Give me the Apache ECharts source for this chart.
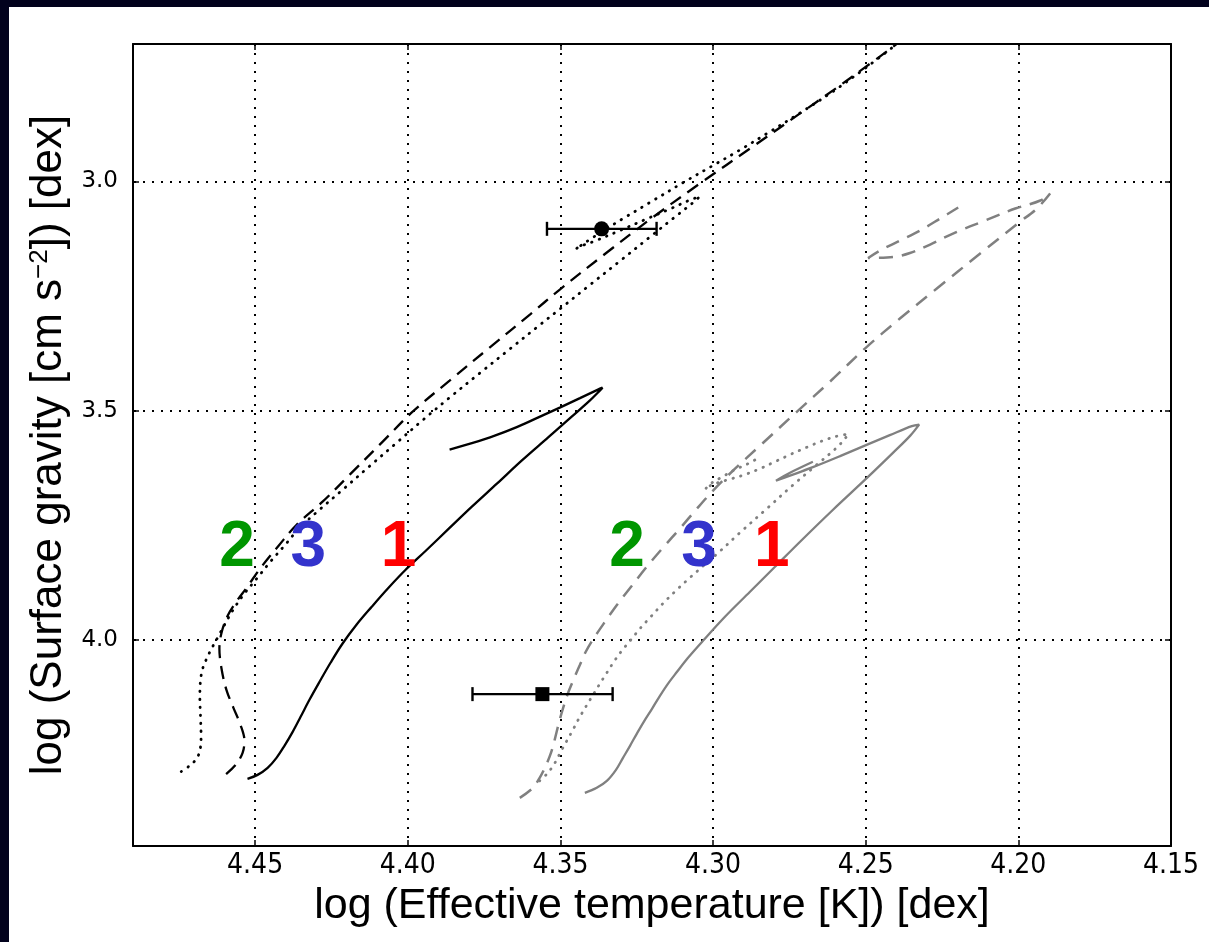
<!DOCTYPE html>
<html><head><meta charset="utf-8">
<script src="https://cdn.jsdelivr.net/npm/echarts@6/dist/echarts.min.js"></script>
<style>
html,body{margin:0;padding:0;background:#02021d;width:1209px;height:942px;overflow:hidden}
#c{position:absolute;left:9px;top:7px;width:1200px;height:935px;background:#fff}
</style></head><body><div id="c"></div>
<script>
// ---- tick values ----
const xTicks = [4.45, 4.40, 4.35, 4.30, 4.25, 4.20, 4.15];
const yTicks = [3.0, 3.5, 4.0];

// ---- black tracks (left group) ----
const blackSolid = [[4.4525,4.3035],[4.4492,4.2948],[4.4459,4.2795],[4.4430,4.2576],[4.4404,4.2314],[4.4377,4.2009],[4.4351,4.1681],[4.4322,4.1310],[4.4289,4.0917],[4.4253,4.0502],[4.4214,4.0087],[4.4168,3.9672],[4.4118,3.9279],[4.4066,3.8886],[4.4007,3.8472],[4.3941,3.8057],[4.3869,3.7598],[4.3790,3.7096],[4.3708,3.6594],[4.3627,3.6092],[4.3541,3.5590],[4.3463,3.5131],[4.3404,3.4782],[4.3371,3.4563],[4.3362,3.4498],[4.3377,3.4541],[4.3436,3.4727],[4.3502,3.4934],[4.3574,3.5153],[4.3643,3.5360],[4.3715,3.5546],[4.3790,3.5710],[4.3863,3.5852]];
const blackDashed = [[4.4595,4.2932],[4.4562,4.2714],[4.4541,4.2467],[4.4535,4.2205],[4.4548,4.1856],[4.4571,4.1485],[4.4594,4.1092],[4.4610,4.0633],[4.4617,4.0197],[4.4610,3.9847],[4.4590,3.9476],[4.4564,3.9192],[4.4528,3.8865],[4.4479,3.8406],[4.4423,3.7948],[4.4364,3.7489],[4.4279,3.6987],[4.4190,3.6397],[4.4082,3.5677],[4.3984,3.5022],[4.3863,3.4345],[4.3732,3.3624],[4.3600,3.2904],[4.3502,3.2358],[4.3348,3.1550],[4.3207,3.0830],[4.3043,3.0044],[4.2869,2.9236],[4.2715,2.8515],[4.2607,2.8013],[4.2498,2.7489],[4.2400,2.7009]];
const blackDotted = [[4.4742,4.2876],[4.4715,4.2751],[4.4693,4.2605],[4.4681,4.2424],[4.4677,4.2096],[4.4679,4.1659],[4.4681,4.1266],[4.4679,4.0895],[4.4672,4.0633],[4.4659,4.0415],[4.4643,4.0197],[4.4623,3.9956],[4.4600,3.9672],[4.4574,3.9367],[4.4538,3.9017],[4.4495,3.8668],[4.4450,3.8297],[4.4404,3.7948],[4.4354,3.7555],[4.4289,3.7162],[4.4213,3.6725],[4.4125,3.6212],[4.4036,3.5699],[4.3951,3.5207],[4.3863,3.4716],[4.3764,3.4181],[4.3666,3.3657],[4.3568,3.3133],[4.3502,3.2784],[4.3404,3.2260],[4.3305,3.1736],[4.3207,3.1212],[4.3125,3.0775],[4.3069,3.0480],[4.3043,3.0328],[4.3076,3.0404],[4.3141,3.0600],[4.3207,3.0786],[4.3305,3.1070],[4.3387,3.1299],[4.3436,3.1419],[4.3450,3.1474],[4.3371,3.1124],[4.3289,3.0786],[4.3207,3.0459],[4.3089,2.9989],[4.3000,2.9651],[4.2912,2.9312],[4.2823,2.8952],[4.2715,2.8504],[4.2607,2.8035],[4.2498,2.7511],[4.2404,2.7031]];

// ---- gray tracks (right group) ----
const graySolid = [[4.3420,4.3341],[4.3381,4.3231],[4.3348,4.3079],[4.3318,4.2838],[4.3295,4.2576],[4.3272,4.2314],[4.3250,4.2052],[4.3227,4.1790],[4.3200,4.1507],[4.3174,4.1223],[4.3148,4.0961],[4.3118,4.0699],[4.3082,4.0393],[4.3033,4.0022],[4.2961,3.9498],[4.2879,3.8952],[4.2797,3.8406],[4.2715,3.7860],[4.2607,3.7162],[4.2495,3.6463],[4.2410,3.5917],[4.2354,3.5546],[4.2325,3.5306],[4.2349,3.5338],[4.2421,3.5535],[4.2503,3.5764],[4.2584,3.5993],[4.2673,3.6234],[4.2748,3.6419],[4.2794,3.6528],[4.2748,3.6354],[4.2673,3.6114]];
const grayDashed = [[4.3633,4.3450],[4.3590,4.3231],[4.3568,4.3013],[4.3548,4.2751],[4.3531,4.2467],[4.3518,4.2162],[4.3505,4.1812],[4.3492,4.1507],[4.3476,4.1179],[4.3456,4.0852],[4.3436,4.0546],[4.3417,4.0262],[4.3394,4.0000],[4.3354,3.9607],[4.3312,3.9214],[4.3266,3.8821],[4.3217,3.8406],[4.3164,3.7991],[4.3109,3.7576],[4.3053,3.7140],[4.3000,3.6747],[4.2928,3.6266],[4.2846,3.5764],[4.2725,3.5022],[4.2617,3.4367],[4.2499,3.3624],[4.2388,3.2991],[4.2267,3.2336],[4.2125,3.1572],[4.1998,3.0895],[4.1939,3.0590],[4.1896,3.0262],[4.1928,3.0415],[4.2010,3.0590],[4.2109,3.0852],[4.2207,3.1114],[4.2289,3.1376],[4.2355,3.1561],[4.2410,3.1648],[4.2492,3.1670],[4.2453,3.1507],[4.2387,3.1288],[4.2322,3.1070],[4.2256,3.0808],[4.2197,3.0568]];
const grayDotted = [[4.3568,4.3079],[4.3541,4.2904],[4.3518,4.2686],[4.3499,4.2445],[4.3479,4.2205],[4.3459,4.1965],[4.3440,4.1725],[4.3417,4.1463],[4.3394,4.1212],[4.3371,4.0961],[4.3348,4.0721],[4.3325,4.0480],[4.3299,4.0240],[4.3269,4.0000],[4.3240,3.9760],[4.3204,3.9498],[4.3165,3.9214],[4.3122,3.8930],[4.3076,3.8646],[4.3033,3.8395],[4.2988,3.8133],[4.2912,3.7664],[4.2824,3.7140],[4.2737,3.6616],[4.2660,3.6179],[4.2595,3.5808],[4.2568,3.5611],[4.2557,3.5509],[4.2600,3.5568],[4.2640,3.5655],[4.2692,3.5797],[4.2748,3.5961],[4.2797,3.6114],[4.2846,3.6266],[4.2896,3.6397],[4.2944,3.6496],[4.2984,3.6572],[4.3016,3.6659],[4.3026,3.6714],[4.3003,3.6572],[4.2971,3.6452],[4.2928,3.6288],[4.2885,3.6157],[4.2846,3.6015]];

// ---- observed stars: [logTeff, logg, logTeff low end, logTeff high end] ----
const starCircle = [[4.3365, 3.1033, 4.3544, 4.3185]];
const starSquare = [[4.3559, 4.1186, 4.3788, 4.3329]];

// ---- track number annotations ----
const trackLabels = ['2', '3', '1', '2', '3', '1'];
const trackLabelX = [4.4559, 4.4326, 4.4030, 4.3282, 4.3046, 4.2808];
const trackLabelY = [3.80, 3.80, 3.80, 3.80, 3.80, 3.80];
const labelColors = {'1': '#ff0000', '2': '#009600', '3': '#3333cc'};

const chart = echarts.init(document.getElementById('c'));
const near = (v, arr) => arr.some(t => Math.abs(t - v) < 1e-6);
const gridStyle = {color: '#000', width: 2, type: [2, 7]};
const base = {type: 'line', showSymbol: false, symbol: 'none', smooth: 0.35, clip: true, silent: true, z: 3, animation: false};
const BLACK = '#000', GRAY = '#808080';

const axisCommon = {
  type: 'value', splitLine: {show: false},
  axisLine: {show: true, onZero: false, lineStyle: {color: '#000', width: 2}},
  axisTick: {show: true, inside: true, length: 6, lineStyle: {color: '#000', width: 1.5}}
};

const errBars = starCircle.concat(starSquare);

chart.setOption({
  animation: false,
  backgroundColor: '#fff',
  grid: {left: 124, top: 37, width: 1038, height: 802},
  xAxis: [
    Object.assign({}, axisCommon, {
      position: 'bottom', min: 4.15, max: 4.49, interval: 0.05, inverse: true,
      axisTick: Object.assign({}, axisCommon.axisTick, {customValues: xTicks}),
      axisLabel: {customValues: xTicks, margin: 6, color: '#000', fontFamily: 'Liberation Sans Narrow, DejaVu Sans Condensed, Liberation Sans, sans-serif', fontSize: 28,
        formatter: v => near(v, xTicks) ? v.toFixed(2) : ''},
      name: 'log (Effective temperature [K]) [dex]', nameLocation: 'middle', nameGap: 34,
      nameTextStyle: {fontFamily: 'Liberation Sans, sans-serif', fontSize: 43, color: '#000'}
    }),
    Object.assign({}, axisCommon, {
      position: 'top', min: 4.15, max: 4.49, interval: 0.05, inverse: true,
      axisTick: Object.assign({}, axisCommon.axisTick, {customValues: xTicks}),
      axisLabel: {show: false}
    })
  ],
  yAxis: [
    Object.assign({}, axisCommon, {
      position: 'left', min: 2.7, max: 4.45, interval: 0.05, inverse: true,
      axisTick: Object.assign({}, axisCommon.axisTick, {customValues: yTicks}),
      axisLabel: {customValues: yTicks, margin: 15, color: '#000', fontFamily: 'DejaVu Sans, sans-serif', fontSize: 23,
        formatter: v => near(v, yTicks) ? v.toFixed(1) : ''},
      name: 'log (Surface gravity [cm s{sup|−2}]) [dex]', nameLocation: 'middle', nameGap: 60,
      nameTextStyle: {fontFamily: 'Liberation Sans, sans-serif', fontSize: 44, color: '#000',
        rich: {sup: {fontFamily: 'Liberation Sans, sans-serif', fontSize: 26, color: '#000', verticalAlign: 'top', lineHeight: 44}}}
    }),
    Object.assign({}, axisCommon, {
      position: 'right', min: 2.7, max: 4.45, interval: 0.05, inverse: true,
      axisTick: Object.assign({}, axisCommon.axisTick, {customValues: yTicks}),
      axisLabel: {show: false}
    })
  ],
  series: [
    Object.assign({}, base, {data: blackSolid, lineStyle: {color: BLACK, width: 2.3},
      markLine: {silent: true, z: 1, symbol: ['none', 'none'], label: {show: false}, lineStyle: gridStyle, animation: false,
        data: xTicks.filter(v => v > 4.16).map(v => ({xAxis: v})).concat(yTicks.map(v => ({yAxis: v})))}}),
    Object.assign({}, base, {data: blackDashed, lineStyle: {color: BLACK, width: 2.3, type: [13, 8]}}),
    Object.assign({}, base, {data: blackDotted, lineStyle: {color: BLACK, width: 2.8, type: [0.5, 7.5], cap: 'round'}}),
    Object.assign({}, base, {data: graySolid, lineStyle: {color: GRAY, width: 2.3}}),
    Object.assign({}, base, {data: grayDashed, lineStyle: {color: GRAY, width: 2.5, type: [14, 9]}}),
    Object.assign({}, base, {data: grayDotted, lineStyle: {color: GRAY, width: 2.8, type: [0.5, 7.5], cap: 'round'}}),
    {
      type: 'custom', silent: true, z: 5, data: errBars, encode: {x: [0, 2, 3], y: 1},
      renderItem: (params, api) => {
        const y = api.value(1);
        const a = api.coord([api.value(2), y]);
        const b = api.coord([api.value(3), y]);
        const h = 7, st = {stroke: '#000', lineWidth: 2.4};
        return {type: 'group', children: [
          {type: 'line', shape: {x1: a[0], y1: a[1], x2: b[0], y2: b[1]}, style: st},
          {type: 'line', shape: {x1: a[0], y1: a[1] - h, x2: a[0], y2: a[1] + h}, style: st},
          {type: 'line', shape: {x1: b[0], y1: b[1] - h, x2: b[0], y2: b[1] + h}, style: st}
        ]};
      }
    },
    {type: 'scatter', silent: true, z: 6, symbol: 'circle', symbolSize: 15, itemStyle: {color: '#000', opacity: 1},
      data: starCircle.map(d => [d[0], d[1]])},
    {type: 'scatter', silent: true, z: 6, symbol: 'rect', symbolSize: 14, itemStyle: {color: '#000', opacity: 1},
      data: starSquare.map(d => [d[0], d[1]])},
    {type: 'scatter', silent: true, z: 7, symbolSize: 1, itemStyle: {color: 'rgba(0,0,0,0)', opacity: 1},
      label: {show: true, position: 'inside', formatter: p => p.name, fontFamily: 'Liberation Sans, Arial, sans-serif', fontWeight: 'bold', fontSize: 64, opacity: 1, textBorderWidth: 0},
      data: trackLabels.map((t, i) => ({name: t, value: [trackLabelX[i], trackLabelY[i]], label: {color: labelColors[t]}}))}
  ]
});
</script></body></html>
